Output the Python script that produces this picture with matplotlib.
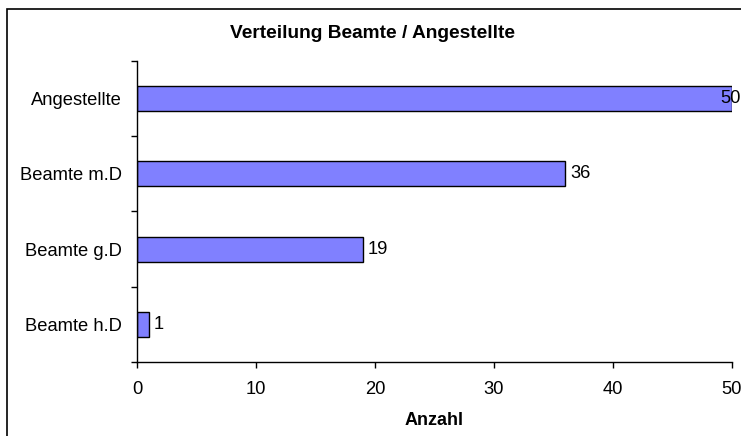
import matplotlib.pyplot as plt
from matplotlib.patches import Rectangle

# Data
categories = ["Beamte h.D", "Beamte g.D", "Beamte m.D", "Angestellte"]
counts = [1, 19, 36, 50]
x_ticks = [0, 10, 20, 30, 40, 50]

plt.rcParams['font.family'] = ['Liberation Sans', 'DejaVu Sans']

fig = plt.figure(figsize=(7.41, 4.36), dpi=100)
ax = fig.add_axes([137/741, 1 - 362/436, (732 - 137)/741, (362 - 61)/436])

pos = list(range(len(categories)))
ax.barh(pos, counts, height=0.33, color="#8080FF", edgecolor="black", linewidth=1.0)

ax.set_xlim(0, 50)
ax.set_ylim(-0.5, len(categories) - 0.5)
ax.set_xticks(x_ticks)
ax.set_xticklabels([str(t) for t in x_ticks])
ax.set_yticks(pos)
ax.set_yticklabels(categories)
ax.set_yticks([p - 0.5 for p in pos] + [pos[-1] + 0.5], minor=True)

ax.tick_params(axis='y', which='major', length=0, pad=11, labelsize=13.2)
ax.tick_params(axis='y', which='minor', length=4, width=1, direction='out')
ax.tick_params(axis='x', length=4, width=1, direction='out', pad=10, labelsize=13.2)

for s in ['top', 'right']:
    ax.spines[s].set_visible(False)
for s in ['left', 'bottom']:
    ax.spines[s].set_linewidth(1)
    ax.spines[s].set_color('black')

# value labels
xmax = ax.get_xlim()[1]
for p, v in zip(pos, counts):
    if v >= xmax:
        ax.annotate(str(v), (v, p), xytext=(6.5, 0), textcoords='offset points',
                    ha='right', va='center', fontsize=13.2, annotation_clip=False)
    else:
        ax.annotate(str(v), (v, p), xytext=(3.5, 0), textcoords='offset points',
                    ha='left', va='center', fontsize=13.2)

ax.set_xlabel("Anzahl", fontsize=13, fontweight='bold', labelpad=10)

fig.text(373/741, 1 - 33/436, "Verteilung Beamte / Angestellte", ha='center', va='center',
         fontsize=13.8, fontweight='bold')

# chart area border (right and bottom edges fall outside the picture)
fig.add_artist(Rectangle((7/741, -0.1), 1.2, 1.1 - 9/436, transform=fig.transFigure,
                         fill=False, edgecolor='black', linewidth=1.2))

fig.savefig("out.png", dpi=100)
